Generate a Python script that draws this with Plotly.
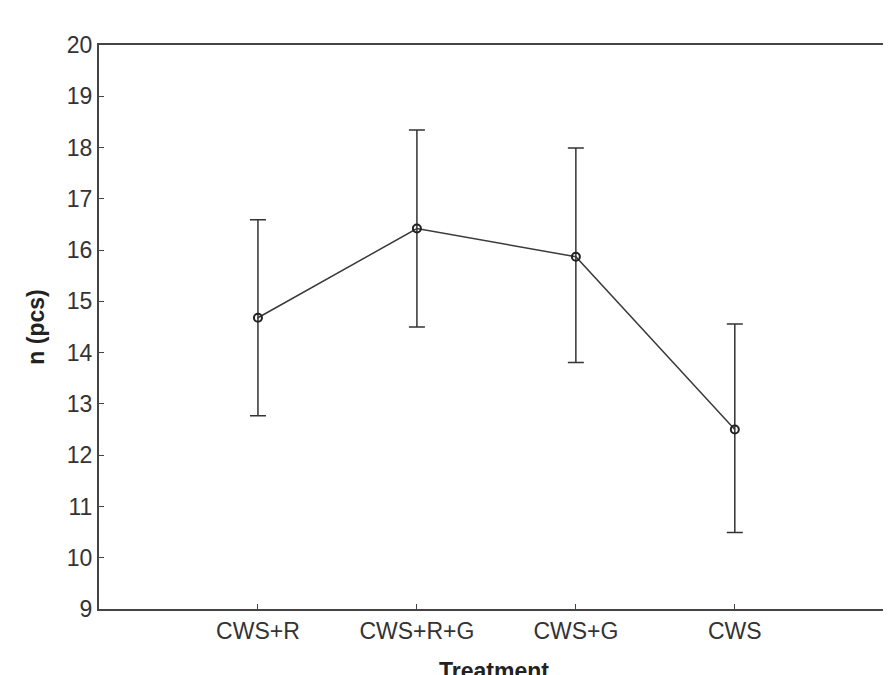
import plotly.graph_objects as go

categories = ["CWS+R", "CWS+R+G", "CWS+G", "CWS"]
means = [14.68, 16.42, 15.87, 12.50]
upper = [16.59, 18.34, 17.99, 14.56]
lower = [12.77, 14.50, 13.81, 10.49]
y_ticks = list(range(9, 21))

xpos = [1, 2, 3, 4]
err_plus = [u - m for u, m in zip(upper, means)]
err_minus = [m - l for m, l in zip(means, lower)]

fig = go.Figure()
fig.add_trace(go.Scatter(
    x=xpos, y=means, mode="lines+markers",
    line=dict(color="#3a3a3a", width=1.5),
    marker=dict(symbol="circle-open", size=8, color="#222222", line=dict(width=2)),
    error_y=dict(type="data", symmetric=False, array=err_plus, arrayminus=err_minus,
                 color="#333333", thickness=1.5, width=8),
    showlegend=False,
))

# page body adds an 8px offset, so the figure is sized to fill the rest of the window
fig.update_layout(
    width=883, height=667,
    margin=dict(l=91, r=0, t=37, b=66),
    plot_bgcolor="white", paper_bgcolor="white",
    font=dict(family="Arial, Liberation Sans, sans-serif", color="#333333", size=23),
)
fig.update_xaxes(
    range=[0, 4.97], tickvals=xpos, ticktext=categories,
    showline=True, linecolor="#444444", linewidth=2, mirror=True,
    ticks="inside", ticklen=5, tickcolor="#444444", showgrid=False, zeroline=False,
    tickfont=dict(size=23),
)
fig.update_yaxes(
    range=[9, 20], tickvals=y_ticks,
    showline=True, linecolor="#444444", linewidth=2, mirror="ticks",
    ticks="inside", ticklen=5, tickcolor="#444444", showgrid=False, zeroline=False,
    title=dict(text="<b>n (pcs)</b>", font=dict(size=23, color="#222222"), standoff=16),
    tickfont=dict(size=23),
)
fig.add_annotation(
    text="<b>Treatment</b>", xref="paper", yref="paper", x=0.5, y=-0.083,
    xanchor="center", yanchor="top", showarrow=False,
    font=dict(size=23, color="#222222"),
)

fig.write_html("out.html")
